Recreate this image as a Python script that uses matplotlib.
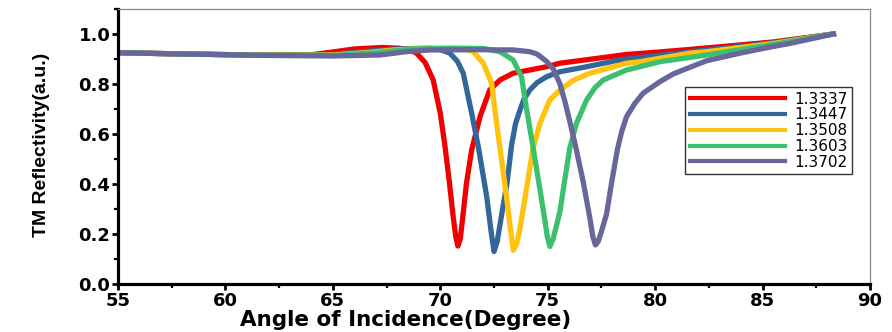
import matplotlib
matplotlib.use("Agg")
import matplotlib.pyplot as plt
from matplotlib.ticker import MultipleLocator

# TM reflectivity vs. angle of incidence for each analyte refractive index
labels = ["1.3337", "1.3447", "1.3508", "1.3603", "1.3702"]
colors = ["#f00000", "#33669a", "#ffc20e", "#3cc070", "#67679b"]

red_x = [55, 58, 62, 64, 65, 66, 67.3, 68.1, 68.6, 68.9, 69.3, 69.67, 70.0, 70.22, 70.42, 70.6, 70.72,
         70.82, 70.93, 71.05, 71.22, 71.46, 71.85, 72.3, 72.78, 73.39, 74.95, 75.57, 76.9, 78.67, 80.2,
         81.6, 83.94, 85.5, 88.3]
red_y = [0.925, 0.92, 0.915, 0.917, 0.928, 0.94, 0.946, 0.943, 0.935, 0.923, 0.885, 0.816, 0.683, 0.55,
         0.41, 0.27, 0.19, 0.152, 0.18, 0.27, 0.403, 0.536, 0.669, 0.776, 0.816, 0.843, 0.869, 0.883,
         0.898, 0.918, 0.928, 0.938, 0.956, 0.968, 1.0]

blue_x = [55, 58, 62, 65, 66.5, 68, 69.5, 70.0, 70.45, 70.8, 71.07, 71.46, 71.77, 72.16, 72.35, 72.5,
          72.65, 72.9, 73.1, 73.32, 73.5, 73.71, 73.9, 74.17, 74.5, 74.95, 75.57, 76.81, 78.36, 79.9,
          81.6, 83.94, 85.5, 88.3]
blue_y = [0.925, 0.92, 0.915, 0.918, 0.93, 0.94, 0.943, 0.938, 0.923, 0.89, 0.843, 0.683, 0.549, 0.35,
          0.22, 0.13, 0.17, 0.30, 0.40, 0.556, 0.64, 0.696, 0.74, 0.776, 0.805, 0.829, 0.849, 0.869,
          0.896, 0.912, 0.929, 0.95, 0.965, 1.0]

yellow_x = [55, 58, 62, 65, 66.5, 68, 69.5, 71.0, 71.53, 72.0, 72.39, 72.62, 72.8, 73.08, 73.25, 73.4,
            73.55, 73.68, 73.86, 74.05, 74.3, 74.64, 75.1, 75.57, 76.2, 76.96, 78.67, 79.29, 81.6, 82.4,
            85.5, 88.3]
yellow_y = [0.925, 0.92, 0.915, 0.916, 0.925, 0.937, 0.943, 0.942, 0.93, 0.883, 0.803, 0.643, 0.53, 0.35,
            0.23, 0.135, 0.16, 0.21, 0.30, 0.40, 0.536, 0.643, 0.736, 0.776, 0.815, 0.843, 0.883, 0.889,
            0.923, 0.929, 0.962, 1.0]

green_x = [55, 58, 62, 65, 67, 68.7, 70.5, 72.0, 72.78, 73.39, 73.78, 74.0, 74.3, 74.56, 74.83, 74.98,
           75.1, 75.25, 75.4, 75.57, 75.8, 76.03, 76.34, 76.81, 77.2, 77.59, 78.67, 79.29, 80.22, 82.4,
           85.5, 88.3]
green_y = [0.925, 0.92, 0.915, 0.914, 0.925, 0.94, 0.943, 0.942, 0.929, 0.896, 0.829, 0.709, 0.556, 0.42,
           0.276, 0.19, 0.15, 0.18, 0.23, 0.29, 0.42, 0.545, 0.643, 0.736, 0.785, 0.816, 0.856, 0.869,
           0.889, 0.916, 0.958, 1.0]

purple_x = [55, 58, 62, 65, 67.2, 68.5, 69.5, 71.85, 73.4, 74.17, 74.5, 74.95, 75.26, 75.57, 75.8, 76.03,
            76.3, 76.65, 76.96, 77.1, 77.22, 77.35, 77.5, 77.74, 77.97, 78.24, 78.44, 78.67, 79.06, 79.44,
            80.22, 80.84, 81.6, 82.4, 83.94, 85.5, 86.27, 88.3]
purple_y = [0.925, 0.92, 0.914, 0.912, 0.916, 0.93, 0.936, 0.937, 0.936, 0.929, 0.92, 0.89, 0.86, 0.80,
            0.73, 0.65, 0.55, 0.41, 0.265, 0.19, 0.156, 0.17, 0.21, 0.28, 0.403, 0.536, 0.609, 0.669,
            0.723, 0.763, 0.809, 0.84, 0.866, 0.893, 0.923, 0.95, 0.962, 1.0]

xs = [red_x, blue_x, yellow_x, green_x, purple_x]
ys = [red_y, blue_y, yellow_y, green_y, purple_y]

fig = plt.figure(figsize=(8.92, 3.32), dpi=100)
ax = fig.add_axes([0.1323, 0.1446, 0.8430, 0.8284])

for x, y, c, lab in zip(xs, ys, colors, labels):
    ax.plot(x, y, color=c, lw=3.8, label=lab)

ax.set_xlim(55, 90)
ax.set_ylim(0, 1.1)
ax.xaxis.set_major_locator(MultipleLocator(5))
ax.xaxis.set_minor_locator(MultipleLocator(2.5))
ax.yaxis.set_major_locator(MultipleLocator(0.2))
ax.yaxis.set_minor_locator(MultipleLocator(0.1))
ax.yaxis.set_major_formatter(plt.FormatStrFormatter("%.1f"))

for s in ["left", "bottom"]:
    ax.spines[s].set_linewidth(2.3)
    ax.spines[s].set_color("black")
for s in ["top", "right"]:
    ax.spines[s].set_linewidth(0.9)
    ax.spines[s].set_color("#888888")

ax.tick_params(which="major", direction="out", length=4, width=2, pad=1.5,
               top=False, right=False)
ax.tick_params(which="minor", direction="out", length=3, width=1.6, top=False, right=False)
for t in ax.get_xticklabels() + ax.get_yticklabels():
    t.set_fontfamily("DejaVu Sans")
    t.set_fontweight("bold")
    t.set_fontsize(13)

ax.set_xlabel("Angle of Incidence(Degree)", fontsize=15.5, fontweight="bold",
              fontfamily="DejaVu Sans", va="bottom")
ax.xaxis.set_label_coords(0.382, -0.169)
ax.set_ylabel("TM Reflectivity(a.u.)", fontsize=14, fontweight="bold",
              fontfamily="Liberation Sans")
ax.yaxis.set_label_coords(-0.09, 0.505)

leg = ax.legend(loc="upper right", bbox_to_anchor=(0.976, 0.716), borderaxespad=0,
                fontsize=11, handlelength=6.2, handletextpad=0.6, labelspacing=0.05,
                borderpad=0.3, fancybox=False, framealpha=1)
leg.get_frame().set_edgecolor("#333333")
leg.get_frame().set_linewidth(1.0)
for line in leg.get_lines():
    line.set_linewidth(3)

fig.savefig("out.png", dpi=100)
